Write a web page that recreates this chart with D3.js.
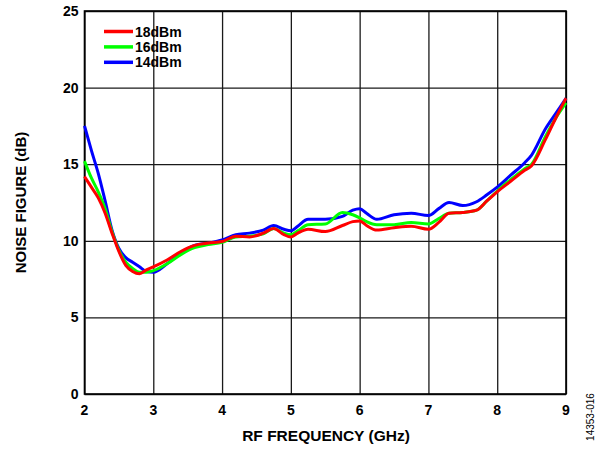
<!DOCTYPE html>
<html>
<head>
<meta charset="utf-8">
<script src="https://cdn.jsdelivr.net/npm/d3@7"></script>
<style>
  body { margin: 0; background: #fff; }
  text { font-family: "Liberation Sans", Arial, sans-serif; }
</style>
</head>
<body>
<div id="run"></div>
<script>
var width = 613,
    height = 450;

// frequency points (GHz)
var freq = [2.0, 2.1, 2.2, 2.3, 2.4, 2.5, 2.6, 2.7, 2.8, 2.9, 3.0, 3.2, 3.4, 3.6, 3.8,
            4.0, 4.2, 4.4, 4.6, 4.75, 4.9, 5.0, 5.1, 5.25, 5.5, 5.75, 5.9, 6.0, 6.1,
            6.25, 6.5, 6.75, 7.0, 7.15, 7.3, 7.5, 7.7, 7.85, 8.0, 8.2, 8.4, 8.5, 8.7,
            8.85, 9.0];

var nf14 = [17.5, 15.9, 14.4, 12.6, 10.7, 9.5, 8.9, 8.6, 8.3, 8.0, 7.95, 8.5, 9.2, 9.7, 9.85,
            10.05, 10.4, 10.5, 10.7, 11.0, 10.75, 10.65, 10.95, 11.4, 11.4, 11.6, 12.0, 12.1, 11.8,
            11.4, 11.7, 11.8, 11.65, 12.1, 12.5, 12.3, 12.55, 13.0, 13.5, 14.3, 15.1, 15.6, 17.3,
            18.3, 19.3];

var nf16 = [15.2, 14.1, 13.2, 12.1, 10.6, 9.4, 8.6, 8.2, 7.95, 7.95, 8.05, 8.5, 9.1, 9.55, 9.75,
            9.9, 10.25, 10.3, 10.45, 10.8, 10.5, 10.4, 10.65, 11.05, 11.1, 11.85, 11.7, 11.5, 11.25,
            11.05, 11.05, 11.2, 11.1, 11.45, 11.8, 11.85, 12.0, 12.6, 13.25, 14.0, 14.7, 15.0, 16.8,
            18.0, 19.0];

var nf18 = [14.2, 13.5, 12.8, 11.8, 10.5, 9.3, 8.4, 8.0, 7.85, 8.1, 8.3, 8.75, 9.3, 9.7, 9.85,
            9.95, 10.3, 10.25, 10.5, 10.8, 10.4, 10.25, 10.5, 10.75, 10.6, 11.0, 11.25, 11.3, 11.0,
            10.7, 10.85, 10.95, 10.75, 11.2, 11.8, 11.85, 12.0, 12.6, 13.2, 13.9, 14.6, 14.9, 16.6,
            18.0, 19.3];

var xTicks = [2, 3, 4, 5, 6, 7, 8, 9];
var yTicks = [0, 5, 10, 15, 20, 25];

var seriesNames = ["18dBm", "16dBm", "14dBm"];
var seriesColors = ["#ff0000", "#00ff00", "#0000ff"];

var margin = {left: 84.5, right: 47, top: 11, bottom: 56};

var x = d3.scaleLinear().domain([2, 9]).range([margin.left, width - margin.right]);
var y = d3.scaleLinear().domain([0, 25]).range([height - margin.bottom, margin.top]);

var svg = d3.select("#run").append("svg")
    .attr("width", width)
    .attr("height", height);

// grid
svg.append("g")
    .attr("transform", "translate(0," + (height - margin.bottom) + ")")
    .call(d3.axisBottom(x).tickValues(xTicks).tickSize(-(y(0) - y(25))).tickFormat(""))
    .call(function(g) { g.select(".domain").remove(); })
    .selectAll("line").attr("stroke", "#1a1a1a").attr("stroke-width", 1.3);

svg.append("g")
    .attr("transform", "translate(" + margin.left + ",0)")
    .call(d3.axisLeft(y).tickValues(yTicks).tickSize(-(x(9) - x(2))).tickFormat(""))
    .call(function(g) { g.select(".domain").remove(); })
    .selectAll("line").attr("stroke", "#1a1a1a").attr("stroke-width", 1.3);

// frame
svg.append("rect")
    .attr("x", x(2)).attr("y", y(25))
    .attr("width", x(9) - x(2)).attr("height", y(0) - y(25))
    .attr("fill", "none").attr("stroke", "#000").attr("stroke-width", 1.6);

// tick labels
svg.selectAll(".xl").data(xTicks).enter().append("text")
    .attr("x", function(d) { return x(d); })
    .attr("y", y(0) + 21)
    .attr("text-anchor", "middle")
    .style("font-size", "14px").style("font-weight", "bold")
    .text(function(d) { return d; });

svg.selectAll(".yl").data(yTicks).enter().append("text")
    .attr("x", margin.left - 6)
    .attr("y", function(d) { return y(d) + 5; })
    .attr("text-anchor", "end")
    .style("font-size", "14px").style("font-weight", "bold")
    .text(function(d) { return d; });

// axis titles
svg.append("text")
    .attr("x", 326)
    .attr("y", 441)
    .attr("text-anchor", "middle")
    .style("font-size", "15.5px").style("font-weight", "bold")
    .text("RF FREQUENCY (GHz)");

svg.append("text")
    .attr("transform", "translate(26," + (y(0) + y(25)) / 2 + ") rotate(-90)")
    .attr("text-anchor", "middle")
    .style("font-size", "15px").style("font-weight", "bold")
    .text("NOISE FIGURE (dB)");

svg.append("text")
    .attr("transform", "translate(594,417) rotate(-90)")
    .attr("text-anchor", "middle")
    .style("font-size", "10px")
    .text("14353-016");

// curves
var line = d3.line()
    .x(function(d) { return x(d[0]); })
    .y(function(d) { return y(d[1]); })
    .curve(d3.curveMonotoneX);

var seriesData = [nf18, nf16, nf14];
[2, 1, 0].forEach(function(i) {
    svg.append("path")
        .datum(d3.zip(freq, seriesData[i]))
        .attr("fill", "none")
        .attr("stroke", seriesColors[i])
        .attr("stroke-width", 3)
        .attr("stroke-linejoin", "round")
        .attr("d", line);
});

// legend
seriesNames.forEach(function(name, i) {
    var ly = 31.5 + i * 15.4;
    svg.append("line")
        .attr("x1", 104).attr("x2", 133)
        .attr("y1", ly).attr("y2", ly)
        .attr("stroke", seriesColors[i]).attr("stroke-width", 3.5);
    svg.append("text")
        .attr("x", 135).attr("y", ly + 5)
        .style("font-size", "14px").style("font-weight", "bold")
        .text(name);
});
</script>
</body>
</html>
